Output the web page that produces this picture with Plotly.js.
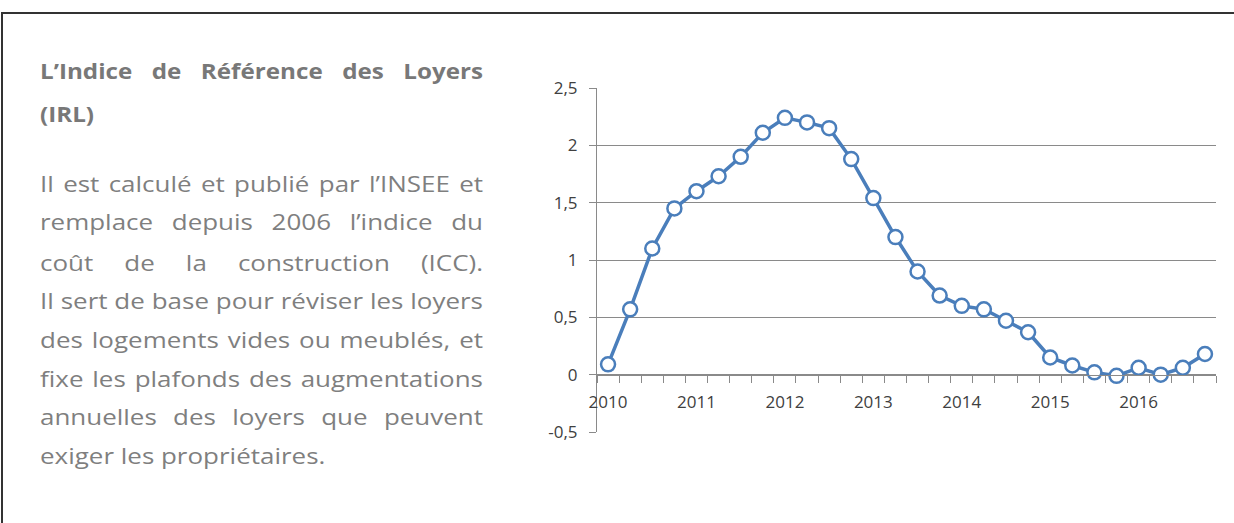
<!DOCTYPE html>
<html><head><meta charset="utf-8">
<script src="https://cdn.plot.ly/plotly-3.0.1.min.js"></script>
<style>
html,body{margin:0;padding:0;background:#fff;overflow:hidden;width:1234px;height:523px;}
#page{position:absolute;left:0;top:0;width:1234px;height:523px;overflow:hidden;background:#fff;}
#hline{position:absolute;left:1px;top:12px;width:1233px;height:2px;background:linear-gradient(#333,#333);}
#vline{position:absolute;left:1px;top:12px;width:2px;height:511px;background:#333;}
.ln{position:absolute;left:40px;white-space:nowrap;font-family:"Open Sans",Lato,sans-serif;font-size:22px;line-height:30px;color:#7f7f7f;text-align:justify;text-align-last:justify;transform-origin:0 0;}
.ln.last{text-align-last:left;}
.ln.b{font-weight:bold;color:#787878;}
#chart{position:absolute;left:0;top:0;width:1234px;height:523px;overflow:hidden;}
</style></head>
<body><div id="page"><div id="chart"></div><div id="txt"></div><div id="hline"></div><div id="vline"></div></div>
<script>
// ---- data ----
const quarters = ['2010 T1','2010 T2','2010 T3','2010 T4','2011 T1','2011 T2','2011 T3','2011 T4',
  '2012 T1','2012 T2','2012 T3','2012 T4','2013 T1','2013 T2','2013 T3','2013 T4',
  '2014 T1','2014 T2','2014 T3','2014 T4','2015 T1','2015 T2','2015 T3','2015 T4',
  '2016 T1','2016 T2','2016 T3','2016 T4'];
const irl = [0.09,0.57,1.10,1.45, 1.60,1.73,1.90,2.11, 2.24,2.20,2.15,1.88,
  1.54,1.20,0.90,0.69, 0.60,0.57,0.47,0.37, 0.15,0.08,0.02,-0.01, 0.06,0.00,0.06,0.18];
const yearLabels = ['2010','2011','2012','2013','2014','2015','2016'];
const yTickVals = [-0.5,0,0.5,1,1.5,2,2.5];
const yTickLabels = ['-0,5','0','0,5','1','1,5','2','2,5'];
const titleLines = ['L\u2019Indice de Référence des Loyers','(IRL)'];
const bodyLines = ['Il est calculé et publié par l\u2019INSEE et',
  'remplace depuis 2006 l\u2019indice du',
  'coût de la construction (ICC).',
  'Il sert de base pour réviser les loyers',
  'des logements vides ou meublés, et',
  'fixe les plafonds des augmentations',
  'annuelles des loyers que peuvent',
  'exiger les propriétaires.'];

// ---- text ----
const txt = document.getElementById('txt');
const COL = 443;
const titleTops = [55, 98];
const bodyTops = [168, 206, 247, 285, 324, 363, 401, 440];
function addLine(t, cls, top, stretch){
  const d=document.createElement('div'); d.className=cls; d.style.top=top+'px';
  d.textContent=t; txt.appendChild(d);
  const probe=document.createElement('span'); probe.textContent=t;
  probe.style.cssText='position:absolute;visibility:hidden;white-space:nowrap;';
  d.appendChild(probe);
  const w=probe.getBoundingClientRect().width; d.removeChild(probe);
  const s = Math.min(stretch, COL/w);
  d.style.width=(COL/s)+'px';
  d.style.transform='scaleX('+s.toFixed(4)+')';
}
titleLines.forEach((t,i)=>addLine(t,'ln b'+(i===titleLines.length-1?' last':''),titleTops[i],1.1));
bodyLines.forEach((t,i)=>addLine(t,'ln'+(i===bodyLines.length-1?' last':''),bodyTops[i],1.18));

// ---- chart ----
const xIdx = quarters.map((q,i)=>i);
const yearIdx = quarters.map((q,i)=>i).filter(i=>quarters[i].endsWith('T1'));
const blue = '#4a7ebb', grid = '#8a8a8a';
Plotly.newPlot('chart',[{
  type:'scatter', mode:'lines+markers', x:xIdx, y:irl, text:quarters,
  line:{color:blue,width:3.5},
  marker:{size:14,color:'#fff',line:{color:blue,width:2.5}},
  cliponaxis:false, hoverinfo:'text+y'
}],{
  width:1234,height:523,
  margin:{l:597,r:18,t:88,b:91,pad:0},
  paper_bgcolor:'rgba(0,0,0,0)',plot_bgcolor:'rgba(0,0,0,0)',
  showlegend:false,
  font:{family:'"Open Sans", Lato, sans-serif',size:17,color:'#404040'},
  xaxis:{range:[-0.5,27.5],anchor:'free',position:1/6,showgrid:false,zeroline:false,
    showline:true,linecolor:grid,linewidth:1,
    tickmode:'array',tickvals:yearIdx,ticktext:yearLabels,
    ticks:'outside',ticklen:7,tickcolor:'rgba(0,0,0,0)',ticklabelstandoff:5,
    minor:{tick0:-0.5,dtick:1,ticks:'outside',ticklen:7,tickcolor:grid,tickwidth:1,showgrid:false},
    fixedrange:true},
  yaxis:{range:[-0.5,2.5],tickmode:'array',tickvals:yTickVals,ticktext:yTickLabels,
    showgrid:true,gridcolor:grid,gridwidth:1,zeroline:false,
    showline:true,linecolor:grid,linewidth:1,ticks:'outside',ticklen:7,tickcolor:grid,
    ticklabelstandoff:8,fixedrange:true}
},{displayModeBar:false,staticPlot:true});
</script></body></html>
